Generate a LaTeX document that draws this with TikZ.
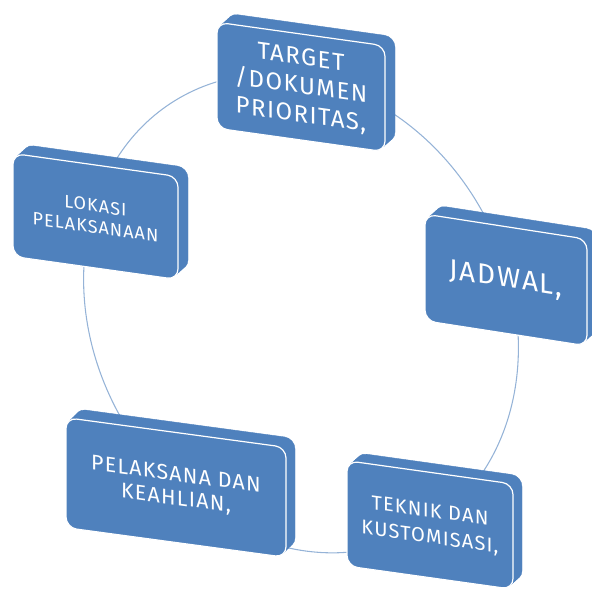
\documentclass[tikz,border=0pt]{standalone}
\usepackage{fontspec}
\setmainfont{Fira Sans}[LetterSpace=6]
\usetikzlibrary{positioning}
\definecolor{smartblue}{RGB}{79,129,189}
\definecolor{ringblue}{RGB}{149,179,215}

\begin{document}
\begin{tikzpicture}[x=0.75pt,y=-0.75pt,
  face/.style={draw=white,line width=0.9pt,fill=smartblue,rounded corners=8pt,
    text=white,align=center,inner sep=0pt,transform shape},
  slab/.style={face,draw=smartblue,line width=0.3pt},
  tile/.style n args={3}{minimum width=#1,minimum height=#2,yslant=#3},
  ring/.style={draw=ringblue,line width=0.8pt}]
\useasboundingbox (0,0) rectangle (592,590);
% the cycle behind the boxes
\coordinate (hub) at (301,313.5);
\draw[ring,rotate around={-61.9:(hub)}] (hub) ellipse [x radius=247.5,y radius=208];
% boxes, with their depth first
\foreach \d in {1,0.8,0.6,0.4,0.2}{
  \node[slab,shift={(10*\d,-9*\d)},tile={126pt}{79.5pt}{-0.14}] at (301,87) {};
  \node[slab,shift={(10*\d,-9*\d)},tile={123.75pt}{77.25pt}{-0.14}] at (95.5,216.5) {};
  \node[slab,shift={(10*\d,-9*\d)},tile={121.5pt}{80pt}{-0.155}] at (506,280) {};
  \node[slab,shift={(9*\d,-9*\d)},tile={165pt}{82.5pt}{-0.135}] at (176,487.5) {};
  \node[slab,shift={(9*\d,-8*\d)},tile={124.5pt}{79pt}{-0.14}] at (430,525) {};
}
\node[face,tile={126pt}{79.5pt}{-0.14},font=\fontsize{18}{21.5}\selectfont] (target) at (301,87) {TARGET\\/DOKUMEN\\PRIORITAS,};
\node[face,tile={123.75pt}{77.25pt}{-0.14},font=\fontsize{13.5}{16}\selectfont] (lokasi) at (95.5,216.5) {LOKASI\\PELAKSANAAN};
\node[face,tile={121.5pt}{80pt}{-0.155},font=\fontsize{21}{24}\selectfont] (jadwal) at (506,280) {JADWAL,};
\node[face,tile={165pt}{82.5pt}{-0.135},font=\fontsize{16}{18}\selectfont] (pelaksana) at (176,487.5) {PELAKSANA DAN\\KEAHLIAN,};
\node[face,tile={124.5pt}{79pt}{-0.14},font=\fontsize{15}{19.5}\selectfont] (teknik) at (430,525) {TEKNIK DAN\\KUSTOMISASI,};
\end{tikzpicture}
\end{document}
